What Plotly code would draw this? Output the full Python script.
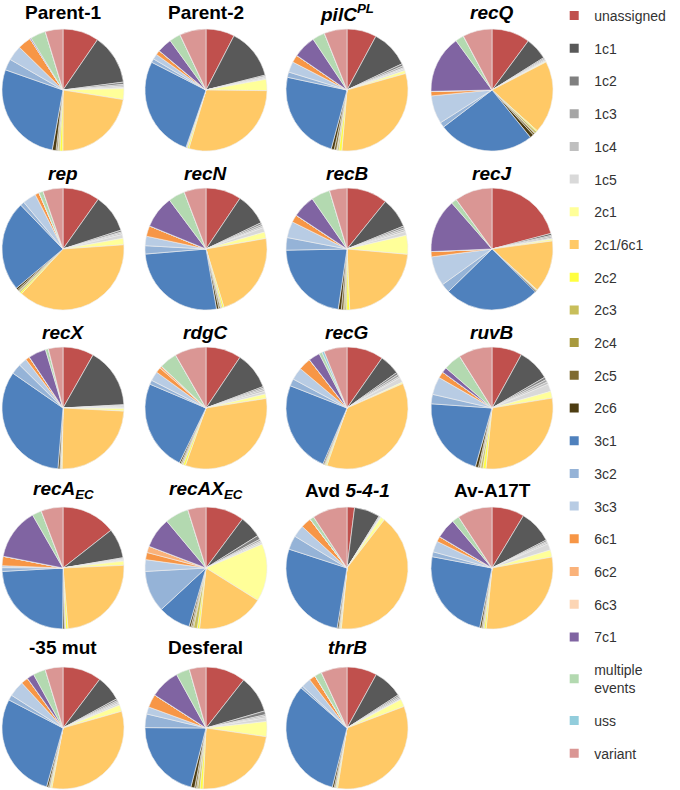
import plotly.graph_objects as go

W, H = 680, 790

categories = ["unassigned", "1c1", "1c2", "1c3", "1c4", "1c5", "2c1", "2c1/6c1", "2c2",
              "2c3", "2c4", "2c5", "2c6", "3c1", "3c2", "3c3", "6c1", "6c2", "6c3", "7c1",
              "multiple events", "uss", "variant"]
legend_labels = [c if c != "multiple events" else "multiple<br>events" for c in categories]
colors = ["#C0504D", "#595959", "#808080", "#A6A6A6", "#BFBFBF", "#D9D9D9", "#FFFF99",
          "#FFC966", "#FFFF40", "#C8BE5A", "#A89A3E", "#7F6B30", "#4D3D12", "#4F81BD",
          "#95B3D7", "#B8CCE4", "#F79646", "#FAB27A", "#FCD5B4", "#8064A2", "#B3D9B0",
          "#92CDDC", "#DA9694"]

# percentages per sample, in category order
parent1 = [9.6, 13.4, 0.6, 0.4, 0.4, 0.3, 2.9, 22.6, 0.8, 0.4, 0.2, 0.4, 1.0, 27.6, 3.0, 4.0, 3.6, 0, 0, 0.3, 4.1, 0, 4.7]
parent2 = [7.6, 13.5, 0.3, 0.2, 0.3, 0.3, 3.0, 29.4, 0.4, 0.2, 0, 0.1, 0.1, 27.2, 1.0, 1.4, 1.2, 0, 0, 3.9, 3.0, 0, 7.0]
pilC = [7.8, 10.0, 0.6, 0.5, 0.3, 0.5, 0.8, 30.5, 0.8, 0.4, 0.2, 0.6, 0.8, 24.0, 1.4, 2.8, 2.0, 0, 0, 6.0, 3.3, 0, 6.0]
recQ = [10.2, 6.0, 0.3, 0.3, 0.3, 0.2, 0.2, 19.4, 0.3, 0.5, 0.2, 0.5, 1.0, 25.6, 1.4, 7.5, 1.2, 0, 0, 15.4, 2.3, 0, 7.8]
rep = [9.8, 10.2, 0.5, 0.3, 0.4, 1.0, 1.7, 38.0, 0.5, 0.4, 0.2, 0.4, 0.5, 23.9, 1.1, 3.6, 1.1, 0, 0, 0, 1.1, 0, 5.3]
recN = [9.4, 8.5, 0.5, 0.5, 0.4, 1.2, 1.7, 23.0, 0.5, 0.3, 0.2, 0.4, 0.6, 26.4, 2.2, 2.5, 2.8, 0, 0, 8.6, 4.4, 0, 5.8]
recB = [10.8, 8.0, 0.5, 0.5, 0.5, 1.0, 5.0, 22.8, 0.8, 0.5, 0.3, 0.6, 0.8, 22.3, 3.3, 4.3, 2.0, 0, 0, 6.0, 5.0, 0, 4.6]
recJ = [21.0, 0.5, 0.3, 0.4, 0.3, 0, 0.5, 13.9, 0.2, 0.1, 0, 0.1, 0.3, 25.4, 2.4, 7.9, 1.4, 0, 0, 14.3, 1.5, 0, 10.0]
recX = [8.3, 16.1, 0.2, 0.2, 0.3, 0.3, 0.7, 24.7, 0.2, 0.2, 0, 0.2, 0.5, 33.7, 2.8, 2.2, 1.1, 0, 0, 4.7, 0.8, 0, 3.9]
rdgC = [9.4, 9.9, 0.4, 0.4, 0.5, 0.7, 1.2, 33.0, 0.6, 0.3, 0.1, 0.3, 0.4, 24.2, 1.1, 2.5, 1.4, 0.6, 0, 0, 4.7, 0, 8.3]
recG = [9.7, 5.4, 0.6, 0.6, 0.4, 1.3, 0.4, 36.8, 0.3, 0.2, 0.1, 0.2, 0.3, 24.4, 1.9, 3.3, 3.3, 0, 0, 3.0, 0.8, 0.6, 6.1]
ruvB = [8.0, 8.6, 0.7, 0.7, 0.6, 2.0, 1.8, 29.2, 0.8, 0.6, 0.2, 0.4, 0.8, 21.7, 2.5, 4.7, 1.7, 0, 0, 1.4, 4.7, 0, 8.9]
recA_EC = [14.4, 7.9, 0.2, 0.2, 0.2, 0.3, 1.1, 24.4, 0.6, 0.2, 0, 0.2, 0.4, 24.0, 1.0, 0.5, 2.5, 0, 0, 13.6, 2.5, 0, 5.8]
recAX_EC = [10.2, 5.9, 1.1, 0.5, 0.4, 0.5, 15.3, 17.8, 0.6, 1.0, 0.3, 0.4, 0.5, 8.6, 11.0, 3.1, 1.9, 1.7, 0, 8.1, 6.3, 0, 4.8]
avd541 = [2.0, 6.8, 0.2, 0.2, 0.1, 0.1, 1.1, 41.0, 0.2, 0.2, 0.1, 0.2, 0.4, 27.4, 3.7, 3.2, 2.8, 0, 0, 0, 1.1, 0, 9.2]
avA17T = [8.6, 8.8, 0.4, 0.3, 0.4, 1.7, 1.9, 29.4, 0.5, 0.3, 0.1, 0.3, 0.5, 24.7, 1.3, 2.9, 1.4, 0, 0, 5.3, 1.9, 0, 9.2]
mut35 = [10.3, 6.8, 0.5, 0.4, 0.4, 0.5, 1.7, 32.4, 0.3, 0.2, 0.1, 0.3, 0.5, 28.3, 1.4, 4.2, 1.9, 0, 0, 1.9, 3.3, 0, 4.7]
desferal = [10.6, 9.9, 1.0, 0.4, 0.4, 1.0, 4.0, 23.5, 0.8, 0.6, 0.3, 0.5, 1.0, 21.1, 3.6, 1.9, 3.5, 0, 0, 7.9, 3.6, 0, 4.4]
thrB = [8.0, 7.9, 0.4, 0.4, 0.4, 0.2, 2.0, 33.3, 0.3, 0.2, 0.1, 0.3, 0.5, 32.6, 0.6, 2.5, 1.7, 0, 0, 0, 1.9, 0, 6.9]

titles = ["<b>Parent-1</b>", "<b>Parent-2</b>", "<b><i>pilC</i><sup><i>PL</i></sup></b>", "<b><i>recQ</i></b>",
          "<b><i>rep</i></b>", "<b><i>recN</i></b>", "<b><i>recB</i></b>", "<b><i>recJ</i></b>",
          "<b><i>recX</i></b>", "<b><i>rdgC</i></b>", "<b><i>recG</i></b>", "<b><i>ruvB</i></b>",
          "<b><i>recA</i><sub><i>EC</i></sub></b>", "<b><i>recAX</i><sub><i>EC</i></sub></b>",
          "<b>Avd <i>5-4-1</i></b>", "<b>Av-A17T</b>",
          "<b>-35 mut</b>", "<b>Desferal</b>", "<b><i>thrB</i></b>"]
samples = [parent1, parent2, pilC, recQ, rep, recN, recB, recJ, recX, rdgC, recG, ruvB,
           recA_EC, recAX_EC, avd541, avA17T, mut35, desferal, thrB]

col_cx = [63, 206, 347, 492]
row_cy = [90, 249, 408, 568, 728]
title_cy = [13, 173, 332, 490, 647]
R = 61

fig = go.Figure()
for i, (vals, title) in enumerate(zip(samples, titles)):
    r, c = divmod(i, 4)
    cx, cy = col_cx[c], row_cy[r]
    fig.add_trace(go.Pie(
        labels=categories, values=vals, sort=False, direction="clockwise", rotation=0,
        marker=dict(colors=colors, line=dict(color="#EEEEEE", width=0.6)),
        textinfo="none", showlegend=False, hoverinfo="label+percent",
        domain=dict(x=[(cx - R) / W, (cx + R) / W], y=[1 - (cy + R) / H, 1 - (cy - R) / H]),
    ))
    fig.add_annotation(text=title, x=cx / W, y=1 - title_cy[r] / H, xref="paper", yref="paper",
                       xanchor="center", yanchor="middle", showarrow=False,
                       font=dict(family="Liberation Sans, Arial", size=19, color="#000000"))

for lab, col in zip(legend_labels, colors):
    fig.add_trace(go.Scatter(x=[None], y=[None], mode="markers", name=lab, legendgroup=lab,
                             marker=dict(symbol="square", size=9, color=col),
                             showlegend=True, hoverinfo="skip"))

fig.update_layout(
    width=W, height=H, margin=dict(l=0, r=0, t=0, b=0),
    paper_bgcolor="white", plot_bgcolor="white",
    xaxis=dict(visible=False), yaxis=dict(visible=False),
    legend=dict(x=0.815, xanchor="left", y=1.0, yanchor="top", tracegroupgap=11.5,
                maxheight=1.0,
                font=dict(family="Liberation Sans, Arial", size=14, color="#333333"),
                bgcolor="rgba(0,0,0,0)", itemclick=False),
)

fig.write_html("out.html", config={"displayModeBar": False},
               post_script="document.body.style.margin='0';")
